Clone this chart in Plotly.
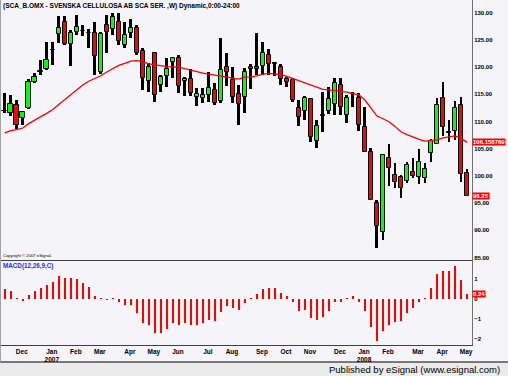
import plotly.graph_objects as go
from plotly.subplots import make_subplots
import pandas as pd

# weekly bars (week ending Friday)
dates = pd.date_range("2006-11-17", periods=78, freq="7D")

open_ = [111.9, 111.5, 113.0, 110.6, 112.5, 117.3, 119.1, 119.6, 123.1, 126.1,
         128.2, 124.25, 126.5, 126.6, 126.2, 126.3, 119.15, 127.7, 126.95, 128.35,
         124.1, 126.3, 127.1, 123.0, 117.5, 122.5, 116.7, 118.4, 121.0, 121.6,
         117.45, 117.8, 114.45, 114.4, 114.9, 115.8, 113.8, 120.05, 117.6, 115.05,
         114.45, 120.0, 120.05, 120.2, 122.2, 120.55, 120.05, 117.75, 117.6, 112.4,
         112.0, 114.1, 106.4, 111.0, 111.9, 113.2, 116.7, 111.2, 115.0, 114.4,
         109.05, 104.45, 95.0, 89.75, 103.25, 100.2, 99.85, 99.1, 100.65, 99.75,
         99.55, 104.15, 105.85, 114.3, 107.95, 108.3, 113.0, 100.5]
high = [115.2, 114.9, 113.95, 112.0, 117.8, 119.0, 121.3, 124.7, 124.7, 129.3,
        129.3, 126.8, 129.5, 127.7, 126.95, 128.35, 126.5, 129.6, 129.9, 129.9,
        128.35, 128.8, 127.7, 123.45, 120.7, 122.5, 118.55, 121.6, 121.9, 122.2,
        118.2, 119.6, 116.1, 116.1, 119.15, 117.1, 125.3, 122.65, 120.05, 116.7,
        119.8, 120.55, 126.2, 124.7, 123.3, 120.85, 120.55, 118.1, 117.95, 113.95,
        114.7, 114.3, 110.3, 115.5, 116.4, 117.95, 117.95, 114.9, 115.4, 115.2,
        112.6, 105.05, 95.6, 104.0, 105.8, 102.3, 100.2, 102.6, 103.35, 104.9,
        102.45, 106.75, 114.4, 117.3, 110.3, 113.8, 114.55, 101.2]
low = [111.5, 111.0, 108.6, 109.4, 112.35, 117.1, 118.5, 119.5, 120.4, 124.4,
       124.1, 120.2, 125.9, 125.7, 123.45, 118.5, 118.7, 122.5, 125.9, 124.1,
       123.45, 125.3, 122.2, 115.8, 115.5, 113.6, 115.5, 116.4, 117.95, 115.2,
       114.7, 114.7, 112.85, 113.35, 113.6, 113.0, 113.35, 116.5, 113.35, 109.35,
       111.6, 115.9, 118.55, 118.55, 118.55, 118.35, 116.7, 116.4, 113.6, 109.2,
       110.3, 106.3, 105.05, 108.1, 111.4, 111.2, 111.2, 109.7, 112.75, 108.3,
       104.45, 95.6, 86.7, 88.2, 98.2, 97.7, 95.9, 98.75, 99.55, 98.5,
       98.65, 102.5, 105.85, 107.35, 106.3, 106.6, 98.95, 96.25]
close = [111.9, 113.2, 109.4, 111.75, 117.3, 118.2, 119.1, 121.3, 123.1, 127.1,
         124.25, 126.3, 127.4, 126.6, 126.2, 122.05, 126.1, 126.5, 129.15, 124.85,
         125.9, 127.1, 122.65, 117.95, 119.95, 114.9, 118.1, 119.6, 121.6, 116.5,
         117.9, 115.2, 115.05, 114.8, 116.1, 113.35, 119.5, 119.15, 114.45, 113.2,
         119.05, 119.7, 119.65, 122.5, 120.55, 120.55, 117.75, 117.3, 113.95, 110.9,
         114.3, 107.1, 109.2, 111.0, 114.1, 117.0, 112.75, 114.3, 115.0, 109.35,
         104.45, 95.6, 90.85, 103.85, 101.4, 98.85, 97.85, 102.0, 100.05, 102.5,
         101.3, 106.4, 113.0, 108.95, 108.15, 112.55, 100.35, 96.25]
ma = [107.9, 108.3, 108.5, 108.8, 109.6, 110.3, 110.9, 111.5, 112.2, 113.1,
      114.0, 115.0, 115.9, 116.7, 117.4, 117.9, 118.4, 119.1, 119.7, 120.3,
      120.7, 121.1, 121.2, 121.0, 120.6, 120.4, 120.2, 120.1, 120.05, 120.0,
      119.7, 119.4, 119.1, 118.9, 118.7, 118.5, 118.3, 118.1, 117.9, 117.8,
      118.15, 118.2, 118.4, 118.7, 118.85, 118.75, 118.6, 118.3, 117.9, 117.5,
      117.0, 116.6, 116.2, 115.9, 115.8, 115.7, 115.55, 115.4, 115.1, 114.9,
      113.95, 112.4, 111.0, 110.5, 109.95, 109.1, 108.1, 107.6, 107.1, 106.7,
      106.4, 106.5, 106.6, 107.0, 107.2, 107.35, 106.9, 106.158769]
macd_hist = [0.5, 0.4, 0.03, -0.1, 0.2, 0.4, 0.53, 0.7, 0.85, 1.15,
             1.05, 1.05, 0.98, 0.82, 0.62, 0.15, 0.05, -0.02, 0.05, -0.17,
             -0.32, -0.32, -0.68, -1.18, -1.3, -1.72, -1.68, -1.52, -1.22, -1.32,
             -1.22, -1.28, -1.28, -1.22, -1.05, -1.08, -0.63, -0.35, -0.43, -0.55,
             -0.22, 0.05, 0.25, 0.5, 0.55, 0.53, 0.28, 0.15, -0.17, -0.58,
             -0.55, -0.97, -1.05, -0.88, -0.58, -0.13, -0.13, 0.03, 0.15, -0.13,
             -0.58, -1.38, -2.08, -1.6, -1.3, -1.17, -1.08, -0.68, -0.47, -0.13,
             0.05, 0.53, 1.25, 1.4, 1.4, 1.67, 0.95, 0.24]
price_ticks = [85, 90, 95, 100, 105, 110, 115, 120, 125, 130]
macd_ticks = [-2, -1, 0, 1]

BG = "#f5f4f8"
GREEN = "#00ff00"
RED = "#ff0000"
FONT = "Liberation Sans"

idx = list(range(len(dates)))

# month ticks at first bar of each month
tickvals, ticktext = [], []
prev = dates[0].month
for i, d in enumerate(dates):
    if d.month != prev:
        lab = d.strftime("%b")
        if d.month == 1:
            lab += "<br>" + str(d.year)
        tickvals.append(i + 0.85)
        ticktext.append(lab)
    prev = d.month

fig = make_subplots(rows=2, cols=1, shared_xaxes=True, vertical_spacing=0,
                    row_heights=[260, 85])

# wicks
fig.add_trace(go.Bar(x=idx, base=low, y=[h - l for h, l in zip(high, low)],
                     width=0.32, marker=dict(color="black", line=dict(width=0)),
                     showlegend=False, hoverinfo="skip"), row=1, col=1)
# bodies
body_base = [min(o, c) for o, c in zip(open_, close)]
body_h = [max(abs(c - o), 0.12) for o, c in zip(open_, close)]
body_col = [GREEN if c >= o else RED for o, c in zip(open_, close)]
fig.add_trace(go.Bar(x=idx, base=body_base, y=body_h, width=0.74,
                     marker=dict(color=body_col, line=dict(color="black", width=1)),
                     showlegend=False), row=1, col=1)
# moving average
fig.add_trace(go.Scatter(x=idx, y=ma, mode="lines",
                         line=dict(color=RED, width=1.3), showlegend=False),
              row=1, col=1)
# MACD histogram
fig.add_trace(go.Bar(x=idx, y=macd_hist, width=0.34,
                     marker=dict(color=RED, line=dict(width=0)), showlegend=False),
              row=2, col=1)

tickfont = dict(family=FONT, size=6, color="black", weight="bold")
xr = [-0.78, 77.83]
fig.update_xaxes(range=xr, showgrid=False, zeroline=False, showline=True,
                 linecolor="#404040", linewidth=1, ticks="", automargin=False)
fig.update_xaxes(showticklabels=False, row=1, col=1)
fig.update_xaxes(tickvals=tickvals, ticktext=ticktext, tickangle=0,
                 tickfont=dict(family=FONT, size=6.5, color="black", weight="bold"),
                 row=2, col=1)
fig.update_yaxes(side="right", range=[84.54, 132.33], tickvals=price_ticks,
                 tickformat=".2f", tickfont=tickfont, showgrid=False, zeroline=False,
                 showline=True, linecolor="#707070", linewidth=1, ticks="",
                 automargin=False, row=1, col=1)
fig.update_yaxes(side="right", range=[-2.3, 1.95], tickvals=macd_ticks,
                 tickfont=tickfont, showgrid=False, zeroline=False,
                 showline=True, linecolor="#707070", linewidth=1, ticks="",
                 automargin=False, row=2, col=1)

ann = [
    dict(text="(SCA_B.OMX - SVENSKA CELLULOSA AB SCA SER. ,W) Dynamic,0:00-24:00",
         xref="paper", yref="paper", x=0, y=1, xanchor="left", yanchor="top",
         xshift=1, showarrow=False,
         font=dict(family=FONT, size=6.5, color="black", weight="bold")),
    dict(text="Copyright © 2007 eSignal.", xref="paper", yref="y domain",
         x=0, y=0, xanchor="left", yanchor="bottom", xshift=1, showarrow=False,
         font=dict(family=FONT, size=4.2, color="black")),
    dict(text="MACD(12,26,9,C)", xref="paper", yref="y2 domain", x=0, y=1,
         xanchor="left", yanchor="top", xshift=1, showarrow=False,
         font=dict(family=FONT, size=6.3, color="#2a2aff", weight="bold")),
    dict(text=f"{ma[-1]:.6f}", xref="paper", yref="y", x=1, y=ma[-1],
         xanchor="left", yanchor="middle", showarrow=False, bgcolor=RED,
         borderpad=0, font=dict(family=FONT, size=6, color="white", weight="bold")),
    dict(text=f"{close[-1]:.2f}", xref="paper", yref="y", x=1, y=close[-1],
         xanchor="left", yanchor="middle", showarrow=False, bgcolor=RED,
         borderpad=0, font=dict(family=FONT, size=6, color="white", weight="bold")),
    dict(text=f"{macd_hist[-1]:.2f}", xref="paper", yref="y2", x=1, y=macd_hist[-1],
         xanchor="left", yanchor="middle", showarrow=False, bgcolor=RED,
         borderpad=0, font=dict(family=FONT, size=6, color="white", weight="bold")),
    dict(text="Published by eSignal (www.esignal.com)", xref="paper", yref="paper",
         x=502 / 472, y=(345 - 369) / 345, xanchor="right", yanchor="middle",
         showarrow=False, font=dict(family=FONT, size=9.5, color="black")),
]

shapes = [
    dict(type="rect", xref="paper", yref="paper", x0=-0.01, x1=1.1,
         y0=(345 - 362) / 345, y1=(345 - 377) / 345, fillcolor="#ebebeb",
         line=dict(width=0), layer="below"),
    dict(type="line", xref="paper", yref="paper", x0=-0.01, x1=1.1,
         y0=(345 - 362) / 345, y1=(345 - 362) / 345,
         line=dict(color="black", width=1)),
    dict(type="line", xref="paper", yref="paper", x0=0.001, x1=0.001,
         y0=(345 - 362) / 345, y1=1, line=dict(color="#a0a0a0", width=1)),
]

fig.update_layout(width=508, height=376, margin=dict(l=0, r=36, t=0, b=31),
                  paper_bgcolor=BG, plot_bgcolor=BG, barmode="overlay",
                  bargap=0, annotations=ann, shapes=shapes, showlegend=False,
                  font=dict(family=FONT))

fig.write_html("out.html", config={"displayModeBar": False},
               post_script="document.body.style.margin='0';"
                           "document.body.style.overflow='hidden';")
